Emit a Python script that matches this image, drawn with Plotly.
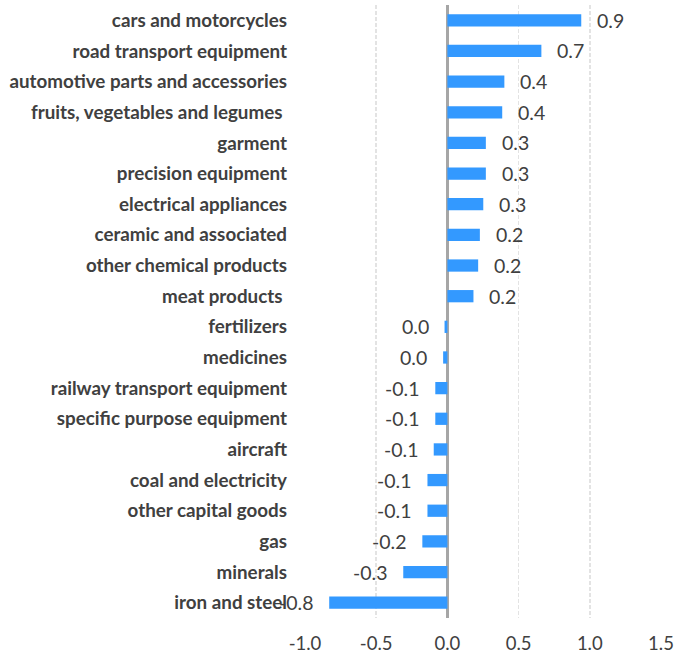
import plotly.graph_objects as go

categories = [
    "cars and motorcycles",
    "road transport equipment",
    "automotive parts and accessories",
    "fruits, vegetables and legumes ",
    "garment",
    "precision equipment",
    "electrical appliances",
    "ceramic and associated",
    "other chemical products",
    "meat products ",
    "fertilizers",
    "medicines",
    "railway transport equipment",
    "specific purpose equipment",
    "aircraft",
    "coal and electricity",
    "other capital goods",
    "gas",
    "minerals",
    "iron and steel",
]
values = [0.94, 0.66, 0.40, 0.385, 0.27, 0.27, 0.252, 0.228, 0.216, 0.183,
          -0.02, -0.03, -0.085, -0.085, -0.096, -0.14, -0.14, -0.176, -0.31, -0.83]
x_ticks = [-1.0, -0.5, 0.0, 0.5, 1.0, 1.5]


def fmt(v):
    r = round(v + 1e-9, 1)
    if r == 0:
        r = 0.0
    return f"{r:.1f}"


LABEL_FONT = "Lato, 'Open Sans', sans-serif"
TEXT_COLOR = "#404040"

fig = go.Figure()
fig.add_trace(go.Bar(
    x=values,
    y=categories,
    orientation="h",
    marker=dict(color="#3399FF", line=dict(width=0)),
    hoverinfo="skip",
))

annotations = []
for c, v in zip(categories, values):
    annotations.append(dict(
        x=v, y=c, xref="x", yref="y",
        text=fmt(v),
        showarrow=False,
        xanchor="left" if v >= 0 else "right",
        xshift=14 if v >= 0 else -14,
        font=dict(family=LABEL_FONT, size=19.5, color=TEXT_COLOR),
    ))

fig.update_layout(
    width=675, height=655,
    margin=dict(l=305, r=14, t=5, b=37),
    paper_bgcolor="white",
    plot_bgcolor="white",
    bargap=0.6,
    showlegend=False,
    hovermode=False,
    annotations=annotations,
    xaxis=dict(
        range=[-1.0, 1.5],
        tickvals=x_ticks,
        ticktext=[fmt(t) for t in x_ticks],
        showgrid=True,
        gridcolor="#E3E3E3",
        griddash="4px,2px",
        gridwidth=1.5,
        zeroline=True,
        zerolinecolor="#A6A6A6",
        zerolinewidth=3,
        showline=False,
        ticks="",
        ticklabelstandoff=12,
        automargin=False,
        tickfont=dict(family=LABEL_FONT, size=18.5, color=TEXT_COLOR),
    ),
    yaxis=dict(
        autorange="reversed",
        showgrid=False,
        showline=False,
        ticks="",
        ticklabelstandoff=17,
        automargin=False,
        tickfont=dict(family=LABEL_FONT, size=18.8, color=TEXT_COLOR, weight="bold"),
    ),
)

fig.write_html(
    "out.html",
    config={"displayModeBar": False, "staticPlot": True},
    post_script="document.body.style.margin='0';document.body.style.overflow='hidden';",
)
